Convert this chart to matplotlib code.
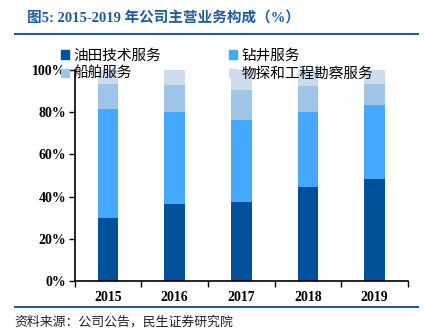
import numpy as np
import matplotlib
matplotlib.use('Agg')
import matplotlib.pyplot as plt
from matplotlib.patches import Patch
from matplotlib.lines import Line2D

plt.rcParams['font.family'] = ['Liberation Serif', 'Noto Sans CJK SC', 'DejaVu Sans']

# main business mix, share of revenue (%)
years = ['2015', '2016', '2017', '2018', '2019']
oilfield = [29.7, 36.5, 37.4, 44.7, 48.3]
drilling = [51.8, 43.6, 39.0, 35.5, 35.1]
shipping = [11.9, 12.9, 14.1, 12.4, 10.0]
survey = [6.6, 7.0, 9.5, 7.4, 6.6]

names = ['油田技术服务', '钻井服务', '船舶服务', '物探和工程勘察服务']
colors = ['#00509a', '#45a8ff', '#9fc5e8', '#ccdcec']
title_blue = '#1f5c9e'

fig = plt.figure(figsize=(4.24, 3.33), dpi=100)
ax = fig.add_axes([0.176, 0.156, 0.786, 0.634])

x = np.arange(len(years))
bottom = np.zeros(len(years))
for vals, c in zip([oilfield, drilling, shipping, survey], colors):
    ax.bar(x, vals, width=0.31, bottom=bottom, color=c, zorder=2)
    bottom += np.array(vals)

ax.set_xlim(-0.5, len(years) - 0.5)
ax.set_ylim(0, 100)
ax.set_yticks(np.arange(0, 101, 20))
ax.set_yticklabels([f'{v}%' for v in range(0, 101, 20)],
                   fontsize=10, fontweight='bold')
ax.set_xticks(x)
ax.set_xticklabels(years, fontsize=10, fontweight='bold')
ax.set_xticks(np.arange(-0.5, len(years), 1), minor=True)
ax.tick_params(axis='x', which='major', length=0, pad=7)
ax.tick_params(axis='x', which='minor', length=4, direction='out', width=1)
ax.tick_params(axis='y', length=4, direction='out', width=1, pad=2)
for s in ['top', 'right']:
    ax.spines[s].set_visible(False)
for s in ['left', 'bottom']:
    ax.spines[s].set_linewidth(1.2)

# legend: two rows, two columns
handles = [Patch(color=c) for c in colors]
order = [0, 2, 1, 3]
fig.legend([handles[i] for i in order], [names[i] for i in order],
           loc='upper left', bbox_to_anchor=(0.112, 0.893), ncol=2,
           frameon=False, handlelength=0.55, handleheight=0.55,
           handletextpad=0.35, columnspacing=4.6, labelspacing=0.3,
           prop={'family': ['Noto Sans CJK SC'], 'size': 10.5})

# header, rules and source note
fig.text(0.064, 0.945, '图5: 2015-2019 年公司主营业务构成（%）',
         color=title_blue, fontsize=10.5, fontweight='bold',
         ha='left', va='center')
fig.add_artist(Line2D([0.035, 0.986], [0.898, 0.898], color=title_blue,
                      lw=1.5, transform=fig.transFigure))
fig.add_artist(Line2D([0.035, 0.986], [0.077, 0.077], color=title_blue,
                      lw=1.5, transform=fig.transFigure))
fig.text(0.035, 0.033, '资料来源：公司公告，民生证券研究院',
         fontsize=9.3, family=['Noto Sans CJK SC'], color='#222222',
         ha='left', va='center')

fig.savefig('out.png', dpi=100)
